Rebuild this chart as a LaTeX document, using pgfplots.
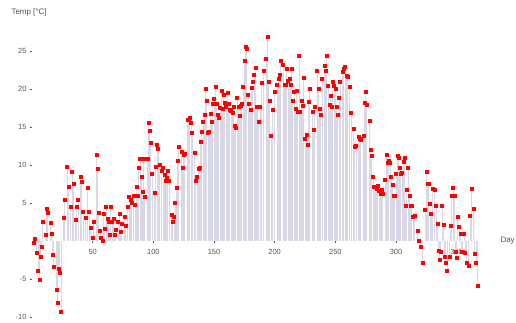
\documentclass[border=0pt]{standalone}
\usepackage{fontspec}
\setmainfont{Liberation Sans}
\usepackage{pgfplots}
\usepackage{pgfplotstable}
\pgfplotsset{compat=1.18}
\definecolor{stemc}{RGB}{216,216,230}
\definecolor{lbl}{RGB}{85,85,85}
\pgfplotstableread{
d v
1 -0.2
2 0.3
4 -1.5
5 -3.9
6 -5.1
7 -2.1
8 -0.7
9 2.5
11 0.8
12 4.2
13 3.7
15 2.4
16 1.0
17 -1.8
18 -3.4
20 -6.4
21 -8.1
22 -3.6
23 -4.2
24 -9.3
26 3.1
27 5.4
29 9.8
30 7.1
32 4.5
33 9.1
34 7.5
36 2.8
37 4.5
38 5.5
40 8.5
41 7.8
42 3.9
44 3.1
46 7.0
47 3.9
48 1.8
50 0.5
51 2.5
53 11.4
54 9.5
55 3.7
56 1.4
57 0.5
58 0.0
59 3.6
60 1.6
61 4.5
62 2.9
63 2.5
64 0.8
65 4.5
66 2.5
67 3.0
68 0.8
69 1.5
71 2.5
72 3.6
73 1.2
74 2.3
76 3.2
77 2.0
79 4.5
80 5.8
81 5.4
82 5.1
84 5.9
85 4.8
86 7.2
87 6.0
88 9.7
89 10.8
90 8.5
91 6.5
92 10.8
93 5.8
95 10.8
96 15.6
97 14.5
98 12.9
99 8.9
101 6.3
102 9.8
103 12.6
104 12.2
105 10.1
107 9.3
108 9.6
109 8.7
110 8.0
111 8.3
112 9.3
113 7.9
115 3.5
116 2.5
117 3.2
118 5.0
119 7.0
120 10.6
121 12.4
123 11.8
124 9.7
125 11.4
126 11.5
128 16.0
129 16.0
130 16.2
131 15.5
132 14.2
134 11.6
135 8.0
136 8.5
137 9.5
138 9.6
139 13.0
140 14.4
141 15.7
142 16.6
143 20.0
144 18.4
145 14.2
146 14.4
147 16.7
148 15.7
149 18.0
150 18.7
151 20.3
152 18.0
153 16.6
154 16.2
155 17.5
156 19.7
157 17.4
158 19.3
159 18.2
160 17.7
161 19.5
162 18.0
163 17.2
164 17.1
165 16.9
166 17.6
167 15.2
168 14.9
169 18.9
170 17.7
171 16.5
172 17.8
173 18.0
174 20.3
175 23.7
176 25.5
177 25.3
178 19.2
179 18.0
180 17.2
181 20.1
182 21.0
183 21.9
184 22.8
185 17.7
186 17.7
187 15.7
188 17.7
189 20.8
191 22.4
193 23.9
194 26.8
195 21.0
196 18.5
197 13.9
198 17.3
200 19.6
202 20.5
203 21.4
204 21.9
205 23.7
207 23.2
208 20.5
209 20.6
210 22.7
211 21.1
212 21.3
213 20.6
214 22.7
215 18.4
216 19.6
217 17.4
218 19.7
219 17.0
220 24.3
221 17.0
222 18.5
223 17.8
224 21.5
225 13.5
226 14.0
227 12.7
228 18.3
229 20.0
231 17.0
232 14.7
233 17.7
235 22.4
236 20.0
237 17.4
238 16.6
239 21.3
241 23.0
242 22.4
243 24.3
244 20.4
245 17.9
246 19.1
247 17.6
248 20.9
249 20.4
250 20.0
251 17.7
252 16.6
253 18.9
254 20.9
256 22.2
257 22.7
258 22.9
259 21.7
260 21.6
262 20.3
263 16.9
265 14.8
266 12.4
267 12.5
269 13.7
270 13.5
271 13.3
273 13.9
274 18.2
275 19.6
276 17.9
278 15.8
279 12.0
280 11.2
281 8.5
282 7.2
283 7.1
284 6.9
285 7.3
286 6.6
287 6.2
288 6.7
289 6.2
291 8.1
292 11.4
293 10.3
294 10.5
295 10.3
296 8.5
297 7.4
298 5.9
299 5.9
300 8.8
301 11.2
302 11.0
303 9.7
304 8.8
305 9.0
306 10.4
307 10.9
308 4.6
309 6.8
310 9.6
311 5.9
312 4.6
313 4.6
314 3.2
315 3.4
318 1.4
319 0.0
320 -0.7
322 -2.9
324 4.1
325 9.1
326 7.6
327 7.6
328 4.9
329 3.6
330 6.9
332 6.7
333 4.6
334 2.3
335 -1.3
336 -2.4
337 -1.4
338 4.6
339 2.1
340 -2.0
341 -2.9
342 -3.9
344 -2.0
345 2.0
346 5.9
347 7.0
348 5.9
349 -1.4
350 -2.2
351 3.2
352 1.9
353 1.0
354 -1.4
355 -1.4
356 1.0
357 -1.5
358 -2.9
360 -3.2
361 3.4
362 6.9
364 4.2
365 -1.7
366 -2.9
367 -5.8
}\tempdata
\begin{document}
\begin{tikzpicture}
\path[use as bounding box] (0,0) rectangle (516bp,323bp);
\begin{axis}[
  at={(32bp,2bp)}, anchor=south west,
  scale only axis, width=455bp, height=293bp,
  xmin=0, xmax=375, ymin=-10.5, ymax=28,
  axis x line=middle, axis y line=left,
  axis line style={draw=none},
  xtick={50,100,...,350},
  ytick={-10,-5,5,10,15,20,25},
  tick style={lbl, thin},
  major tick length=2bp,
  tick align=outside,
  ticklabel style={font=\fontsize{7.5}{8}\selectfont, text=lbl},
  /pgf/number format/assume math mode=true,
  x tick label style={yshift=-3bp},
  clip=false,
]
\addplot[ycomb, stemc, line width=0.85bp, mark=none] table[x=d,y=v] {\tempdata};
\addplot[only marks, mark=square*, mark size=1.5bp, color=red] table[x=d,y=v] {\tempdata};
\end{axis}
\node[anchor=west, text=lbl, font=\fontsize{8}{9}\selectfont] at (8bp,311bp) {Temp [°C]};
\node[anchor=west, text=lbl, font=\fontsize{8}{9}\selectfont] at (497bp,82bp) {Day};
\end{tikzpicture}
\end{document}
